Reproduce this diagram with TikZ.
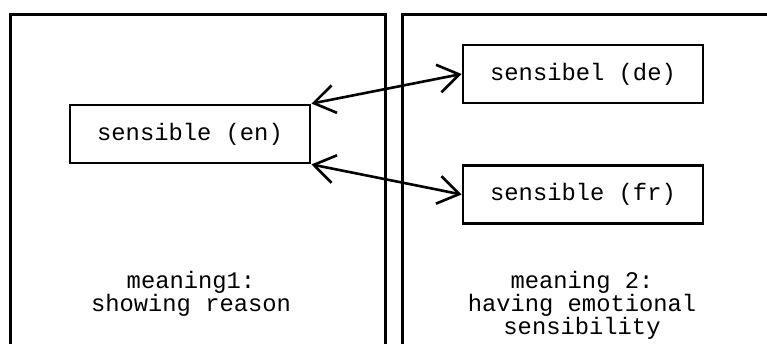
\documentclass[tikz,border=0pt]{standalone}
\usepackage{fontspec}
\setmonofont{Liberation Mono}
\usetikzlibrary{arrows.meta}
\tikzset{
  labelfont/.style={font=\ttfamily\fontsize{23.8}{23}\selectfont},
  panel/.style={line width=3pt},
  word/.style={draw, line width=2.8pt, minimum width=240pt, minimum height=58pt,
    inner sep=0pt, labelfont},
  caption/.style={align=center, inner sep=0pt, labelfont},
  link/.style={line width=2.6pt, {Straight Barb[length=21pt,width=28pt]}-{Straight Barb[length=21pt,width=28pt]}}
}
\begin{document}
\begin{tikzpicture}[x=1pt,y=-1pt]
\useasboundingbox (0,0) rectangle (767,343);
\clip (0,0) rectangle (767,343);
% two meaning panels, open at the bottom / right
\draw[panel] (10,350) -- (10,14) -- (385,14) -- (385,350);
\draw[panel] (402,350) -- (402,14) -- (780,14);
% word nodes
\node[word] (en) at (190,134) {sensible (en)};
\node[word] (de) at (583,74) {sensibel (de)};
\node[word] (fr) at (583,194.5) {sensible (fr)};
% panel captions
\node[caption] (m1) at (191,294) {meaning1:\\showing reason};
\node[caption] (m2) at (582,305) {meaning 2:\\having emotional\\sensibility};
% translation links
\draw[link] (en.north east) -- (de.west);
\draw[link] (en.south east) -- (fr.west);
\end{tikzpicture}
\end{document}
